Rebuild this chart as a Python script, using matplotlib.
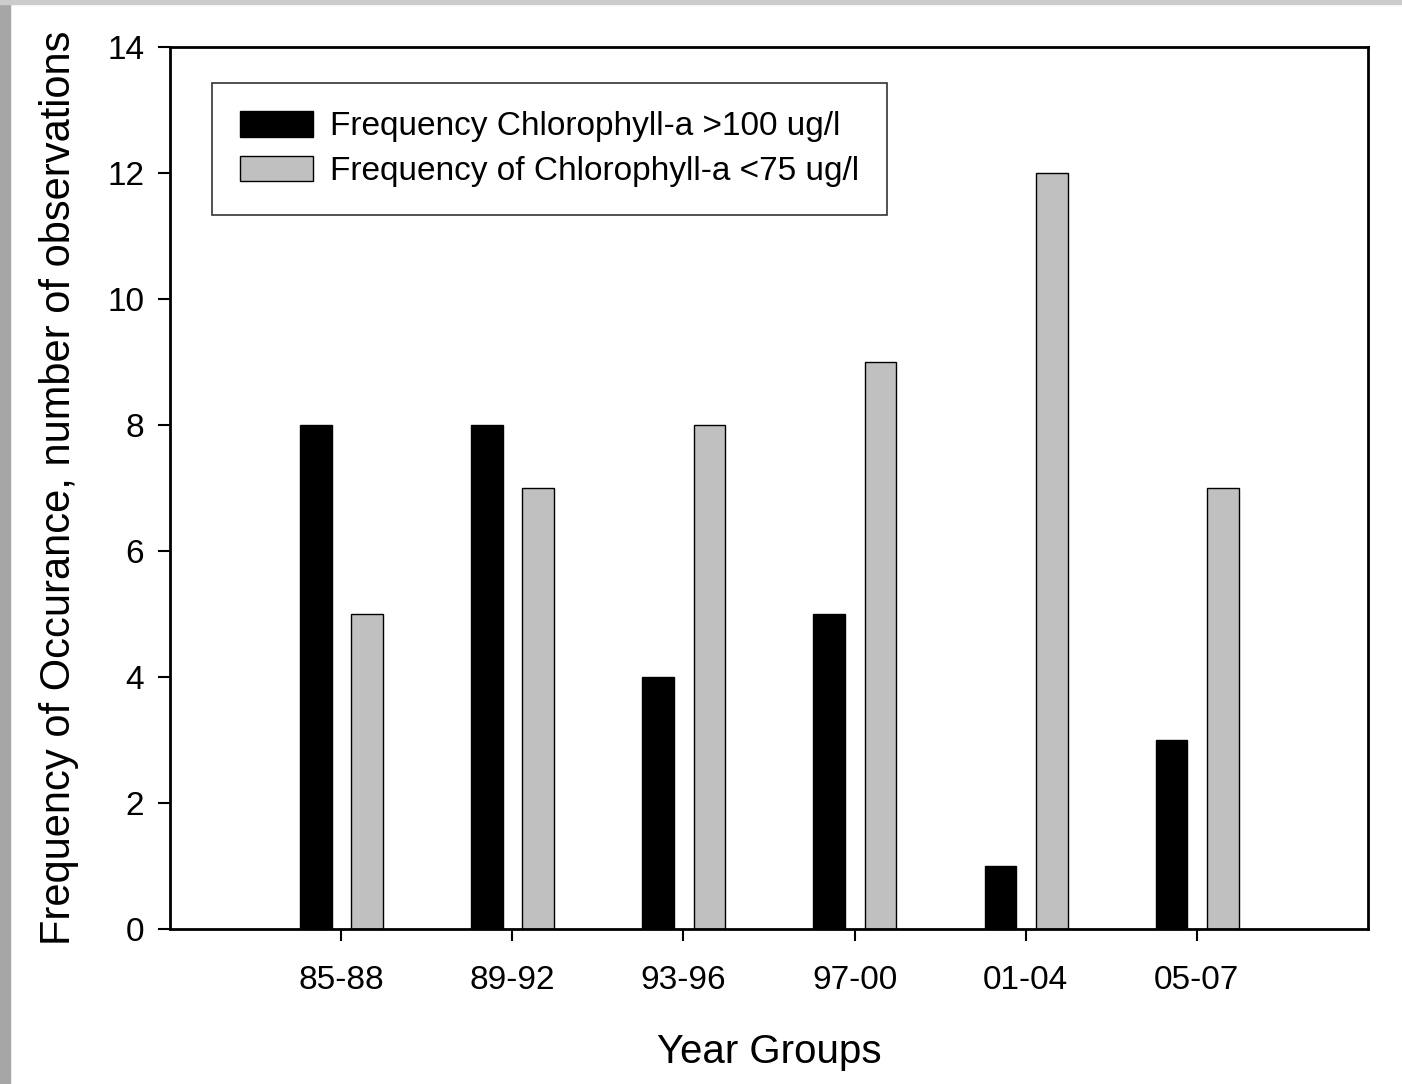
import matplotlib.pyplot as plt
import matplotlib.patches as mpatches
import numpy as np

plt.rcParams['font.family'] = ['Liberation Sans', 'DejaVu Sans']

# Данные
groups = ['85-88', '89-92', '93-96', '97-00', '01-04', '05-07']
chl_high = [8, 8, 4, 5, 1, 3]
chl_low = [5, 7, 8, 9, 12, 7]
labels = ['Frequency Chlorophyll-a >100 ug/l', 'Frequency of Chlorophyll-a <75 ug/l']

fig = plt.figure(figsize=(14.02, 10.84), dpi=100)

# Серая рамка слева и сверху
fig.patches.append(mpatches.Rectangle((0, 0), 10 / 1402, 1, transform=fig.transFigure,
                                      color='#a6a6a6', zorder=0))
fig.patches.append(mpatches.Rectangle((0, 1 - 4 / 1084), 1, 4 / 1084, transform=fig.transFigure,
                                      color='#cccccc', zorder=0))

ax = fig.add_axes([170 / 1402, 1 - 929 / 1084, 1198 / 1402, 882 / 1084])

x = np.arange(len(groups))
w = 0.185
ax.bar(x - 0.148, chl_high, w, color='black', edgecolor='black', linewidth=1, label=labels[0])
ax.bar(x + 0.152, chl_low, w, color='#c0c0c0', edgecolor='black', linewidth=1, label=labels[1])

ax.set_xlim(-1, 6)
ax.set_ylim(0, 14)
ax.set_yticks(range(0, 15, 2))
ax.set_xticks(x)
ax.set_xticklabels(groups)
ax.tick_params(direction='out', length=8.6, width=1.5, labelsize=24)
ax.tick_params(axis='y', pad=10)
ax.tick_params(axis='x', pad=17)
for s in ax.spines.values():
    s.set_linewidth(2)

ax.set_xlabel('Year Groups', fontsize=29, labelpad=27)
ax.set_ylabel('Frequency of Occurance, number of observations', fontsize=30, labelpad=20)

leg = ax.legend(loc='upper left', bbox_to_anchor=(42 / 1198, 1 - 36 / 882), fontsize=24,
                frameon=True, fancybox=False, edgecolor='black', handlelength=2.2,
                handleheight=0.8, handletextpad=0.5, borderpad=0.84, labelspacing=0.4,
                borderaxespad=0)
leg.get_frame().set_linewidth(1.2)

fig.savefig('out.png', dpi=100)
